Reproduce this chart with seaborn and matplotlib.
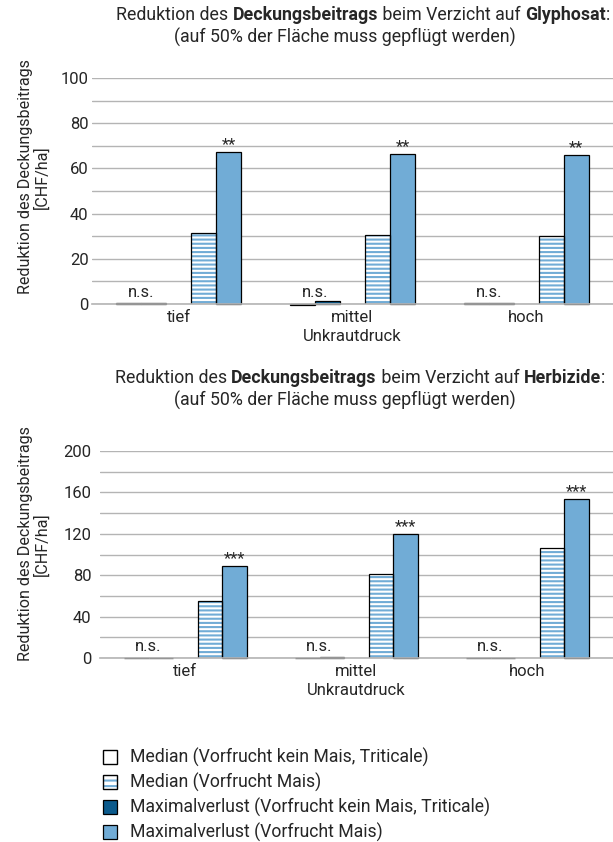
import numpy as np
import pandas as pd
import matplotlib
matplotlib.use("Agg")
import matplotlib.pyplot as plt
from matplotlib.patches import Patch, Rectangle
from matplotlib.legend_handler import HandlerTuple
import seaborn as sns

# Daten
KATEGORIEN = ["tief", "mittel", "hoch"]
SLOTS = ["median_kein", "max_kein", "leer", "median_mais", "max_mais"]

glyph_median_kein = [0.3, -0.6, 0.3]
glyph_max_kein = [0.3, 1.2, 0.3]
glyph_median_mais = [31.2, 30.6, 30.2]
glyph_max_mais = [67.2, 66.5, 65.8]
glyph_sterne = ["**", "**", "**"]

herb_median_kein = [0.2, 0.3, 0.3]
herb_max_kein = [0.2, 1.0, 0.3]
herb_median_mais = [55.0, 81.5, 106.0]
herb_max_mais = [88.5, 120.0, 153.5]
herb_sterne = ["***", "***", "***"]

LEGENDE = [
    "Median (Vorfrucht kein Mais, Triticale)",
    "Median (Vorfrucht Mais)",
    "Maximalverlust (Vorfrucht kein Mais, Triticale)",
    "Maximalverlust (Vorfrucht Mais)",
]

HELLBLAU = "#71acd6"
DUNKELBLAU = "#0b5a8c"
GRID = "#b4b4b4"

sns.set_theme(style="white")
plt.rcParams["font.family"] = ["Roboto", "DejaVu Sans"]
plt.rcParams["hatch.linewidth"] = 1.5
FS = 12
FS_TITEL = 12.8
FS_LEG = 12.7


def to_df(median_kein, max_kein, median_mais, max_mais):
    rows = []
    for i, k in enumerate(KATEGORIEN):
        for s, vals in zip(SLOTS, [median_kein, max_kein, [0, 0, 0], median_mais, max_mais]):
            rows.append({"druck": k, "serie": s, "wert": vals[i]})
    return pd.DataFrame(rows)


def mixed_line(fig, parts, xc, y, size=FS_TITEL):
    r = fig.canvas.get_renderer()
    texts = [fig.text(0, y, s, fontsize=size, fontweight=w, va="center", ha="left",
                      transform=None) for s, w in parts]
    widths = [t.get_window_extent(r).width for t in texts]
    x = xc - sum(widths) / 2
    for t, w in zip(texts, widths):
        t.set_x(x)
        x += w


def panel(ax, df, ymax, major, minor, sterne, pad):
    pal = {"median_kein": "white", "max_kein": DUNKELBLAU, "leer": "white",
           "median_mais": "white", "max_mais": HELLBLAU}
    sns.barplot(data=df, x="druck", y="wert", hue="serie", hue_order=SLOTS,
                order=KATEGORIEN, palette=pal, width=0.72, errorbar=None,
                legend=False, ax=ax, saturation=1)
    c = ax.containers
    for i, cont in enumerate(c):
        for p in cont:
            p.set_edgecolor("black")
            p.set_linewidth(0.9)
            p.set_clip_on(False)
            if SLOTS[i] == "leer":
                p.set_visible(False)
            if SLOTS[i] == "median_mais":
                p.set_edgecolor(HELLBLAU)
                p.set_linewidth(0)
                p.set_hatch("----")
                ax.add_patch(Rectangle(p.get_xy(), p.get_width(), p.get_height(),
                                       fill=False, edgecolor="black", lw=0.9,
                                       zorder=p.get_zorder() + 0.1))
    # n.s. ueber den kleinen Balken, Sterne ueber dem Maximalverlust
    for j in range(len(KATEGORIEN)):
        p0, p1 = c[0][j], c[1][j]
        xm = (p0.get_x() + p1.get_x() + p1.get_width()) / 2
        ax.annotate("n.s.", (xm, 0), xytext=(0, 3), textcoords="offset points",
                    ha="center", va="bottom", fontsize=FS)
        pm = c[4][j]
        ax.annotate(sterne[j], (pm.get_x() + pm.get_width() / 2, pm.get_height()),
                    xytext=(0, 0), textcoords="offset points",
                    ha="center", va="bottom", fontsize=FS)
    ax.set_ylim(0, ymax)
    ax.set_yticks(np.arange(0, ymax + 1, major))
    ax.set_yticks(np.arange(0, ymax + 1, minor), minor=True)
    ax.grid(axis="y", which="both", color=GRID, lw=1)
    ax.set_axisbelow(True)
    for s in ["top", "right", "left"]:
        ax.spines[s].set_visible(False)
    ax.spines["bottom"].set_color(GRID)
    ax.spines["bottom"].set_linewidth(1.2)
    ax.tick_params(axis="both", length=0, labelsize=FS, pad=4)
    ax.tick_params(axis="y", pad=pad)
    ax.set_xlabel("Unkrautdruck", fontsize=FS, labelpad=3)
    ax.set_ylabel("")
    ax.set_xlim(-0.5, 2.5)


W, H = 613, 842
fig = plt.figure(figsize=(W / 100, H / 100), dpi=100)

ax1 = fig.add_axes([92 / W, 1 - 304 / H, (W - 92) / W, (304 - 78) / H])
panel(ax1, to_df(glyph_median_kein, glyph_max_kein, glyph_median_mais, glyph_max_mais),
      100, 20, 10, glyph_sterne, 2.5)

ax2 = fig.add_axes([100 / W, 1 - 658 / H, (W - 100) / W, (658 - 451) / H])
panel(ax2, to_df(herb_median_kein, herb_max_kein, herb_median_mais, herb_max_mais),
      200, 40, 20, herb_sterne, 6)

# y-Achsentitel
for yc in [177, 544]:
    fig.text(34, H - yc, "Reduktion des Deckungsbeitrags\n[CHF/ha]", fontsize=11.6,
             rotation=90, ha="center", va="center", linespacing=1.05,
             multialignment="center", transform=None)

# Titel
mixed_line(fig, [("Reduktion des ", "normal"), ("Deckungsbeitrags", "bold"),
                 (" beim Verzicht auf ", "normal"), ("Glyphosat", "bold"), (":", "normal")],
           363, H - 15)
fig.text(345, H - 37, "(auf 50% der Fläche muss gepflügt werden)", fontsize=FS_TITEL,
         ha="center", va="center", transform=None)
mixed_line(fig, [("Reduktion des ", "normal"), ("Deckungsbeitrags", "bold"),
                 (" beim Verzicht auf ", "normal"), ("Herbizide", "bold"), (":", "normal")],
           360, H - 378)
fig.text(345, H - 400, "(auf 50% der Fläche muss gepflügt werden)", fontsize=FS_TITEL,
         ha="center", va="center", transform=None)

handles = [
    Patch(facecolor="white", edgecolor="black", lw=1.0),
    (Patch(facecolor="white", edgecolor=HELLBLAU, hatch="---", lw=0),
     Patch(fill=False, edgecolor="black", lw=1.0)),
    Patch(facecolor=DUNKELBLAU, edgecolor="black", lw=0.9),
    Patch(facecolor=HELLBLAU, edgecolor="black", lw=0.9),
]
fig.legend(handles, LEGENDE, loc="upper left", bbox_to_anchor=(103 / W, 1 - 748 / H),
           frameon=False, fontsize=FS_LEG, handlelength=0.8, handleheight=0.8,
           handletextpad=0.75, labelspacing=0.33, borderaxespad=0, borderpad=0,
           handler_map={tuple: HandlerTuple(ndivide=1, pad=0)})

fig.savefig("out.png", dpi=100)
